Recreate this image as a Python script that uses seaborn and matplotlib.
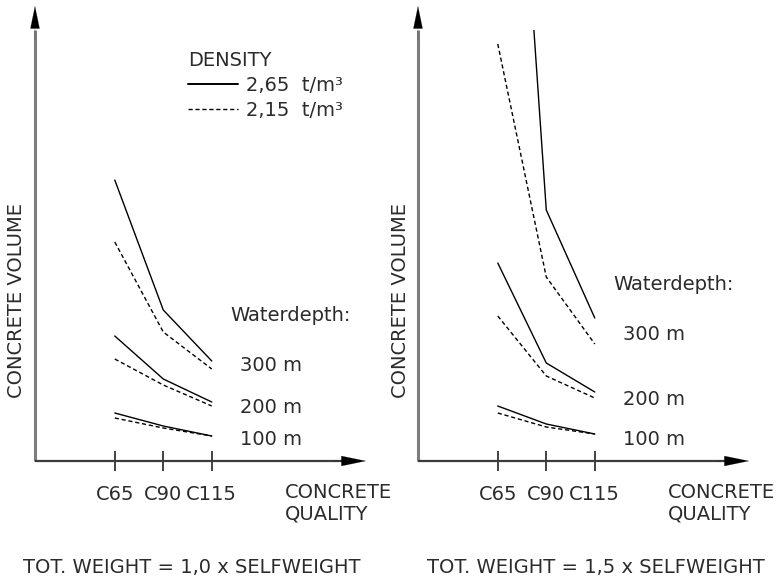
import numpy as np
import pandas as pd
import matplotlib
matplotlib.use("Agg")
import matplotlib.pyplot as plt
import seaborn as sns

# ---------------- data (concrete volume, arbitrary units) ----------------
qualities = ["C65", "C90", "C115"]
depths = ["100 m", "200 m", "300 m"]
densities = ["2,65  t/m³", "2,15  t/m³"]

# TOT. WEIGHT = 1,0 x SELFWEIGHT
w10_d265_100 = [48, 35, 25]
w10_d265_200 = [125, 82, 59]
w10_d265_300 = [281, 151, 100]
w10_d215_100 = [43, 33, 25]
w10_d215_200 = [102, 76, 55]
w10_d215_300 = [219, 129, 92]

# TOT. WEIGHT = 1,5 x SELFWEIGHT
w15_d265_100 = [55, 37, 27]
w15_d265_200 = [198, 98, 69]
w15_d265_300 = [956, 251, 143]
w15_d215_100 = [48, 34, 27]
w15_d215_200 = [145, 85, 63]
w15_d215_300 = [417, 184, 117]

panel_titles = ["TOT. WEIGHT = 1,0 x SELFWEIGHT", "TOT. WEIGHT = 1,5 x SELFWEIGHT"]


def build(series):
    rows = []
    for (dens, depth), vals in series.items():
        for q, v in zip(qualities, vals):
            rows.append({"quality": q, "volume": v, "density": dens, "depth": depth})
    return pd.DataFrame(rows)


df10 = build({
    (densities[0], depths[0]): w10_d265_100,
    (densities[0], depths[1]): w10_d265_200,
    (densities[0], depths[2]): w10_d265_300,
    (densities[1], depths[0]): w10_d215_100,
    (densities[1], depths[1]): w10_d215_200,
    (densities[1], depths[2]): w10_d215_300,
})
df15 = build({
    (densities[0], depths[0]): w15_d265_100,
    (densities[0], depths[1]): w15_d265_200,
    (densities[0], depths[2]): w15_d265_300,
    (densities[1], depths[0]): w15_d215_100,
    (densities[1], depths[1]): w15_d215_200,
    (densities[1], depths[2]): w15_d215_300,
})

# ---------------- style ----------------
sns.set_style("white")
plt.rcParams["font.family"] = ["DejaVu Sans"]
TXT = "#2b2b2b"
FS = 14

W, H = 779, 583
fig = plt.figure(figsize=(W / 100, H / 100), dpi=100)
fig.patch.set_facecolor("white")


def fx(x):
    return x / W


def fy(y):
    return 1 - y / H


AX_W, AX_H = 331, 431
X_AXIS_Y = 461
lefts = [35, 418]

axes = []
for i, (left, df) in enumerate(zip(lefts, [df10, df15])):
    ax = fig.add_axes([fx(left), fy(X_AXIS_Y), AX_W / W, AX_H / H])
    ax.set_facecolor("none")
    sns.lineplot(
        data=df, x="quality", y="volume", style="density", units="depth",
        estimator=None, sort=False, color="black", linewidth=1.0,
        style_order=densities,
        dashes={densities[0]: "", densities[1]: (3, 2)},
        legend=(i == 0), ax=ax,
    )
    ax.set_xlim(-1.645, 5.18)
    ax.set_ylim(0, AX_H)
    for s in ax.spines.values():
        s.set_visible(False)
    ax.set_yticks([])
    ax.set_xticks([0, 1, 2])
    ax.set_xticklabels(qualities, fontsize=FS, color=TXT)
    ax.tick_params(axis="x", bottom=True, direction="inout", length=15, width=1.3,
                   color="#333333", pad=10)
    ax.set_xlabel("")
    ax.set_ylabel("")

    # axis lines with arrow heads (technical-drawing style)
    ax.plot([0, 0], [0, 1.0], transform=ax.transAxes, color="#7d7d7d",
            lw=2.2, clip_on=False, solid_capstyle="butt")
    ax.annotate("", xy=(0, (X_AXIS_Y - 6) / AX_H), xytext=(0, (X_AXIS_Y - 40) / AX_H),
                xycoords="axes fraction", textcoords="axes fraction",
                arrowprops=dict(arrowstyle="-|>,head_length=1.6,head_width=0.33",
                                color="black", lw=0.1, shrinkA=0, shrinkB=0,
                                mutation_scale=10))
    ax.plot([0, 0.96], [0, 0], transform=ax.transAxes, color="#3c3c3c",
            lw=1.6, clip_on=False, solid_capstyle="butt")
    ax.annotate("", xy=(1.0, 0), xytext=(0.9, 0),
                xycoords="axes fraction", textcoords="axes fraction",
                arrowprops=dict(arrowstyle="-|>,head_length=1.75,head_width=0.36",
                                color="black", lw=0.1, shrinkA=0, shrinkB=0,
                                mutation_scale=10))
    axes.append(ax)

ax1, ax2 = axes

# legend
sns.move_legend(ax1, loc="upper left",
                bbox_to_anchor=((188 - 35) / AX_W, (X_AXIS_Y - 51) / AX_H),
                frameon=False, title="DENSITY", fontsize=FS, title_fontsize=FS,
                handlelength=2.55, handletextpad=0.45, labelspacing=0.3,
                borderpad=0, borderaxespad=0, alignment="left")
leg = ax1.get_legend()
for t in leg.get_texts():
    t.set_color(TXT)
leg.get_title().set_color(TXT)
for h in leg.get_lines():
    h.set_linewidth(1.4 if h.get_linestyle() == "-" else 1.0)

# texts
def ftext(x, y, s, **kw):
    fig.text(fx(x), fy(y), s, fontsize=FS, color=TXT, **kw)


for k, left in enumerate(lefts):
    off = left - lefts[0]
    ftext(17 + off, 300, "CONCRETE VOLUME", rotation=90, ha="center", va="center")
    ftext(285 + off if k == 0 else 668, 498, "CONCRETE", ha="left", va="baseline")
    ftext(285 + off if k == 0 else 668, 520, "QUALITY", ha="left", va="baseline")
    ftext(23 if k == 0 else 427, 573, panel_titles[k], ha="left", va="baseline")

# water depth labels
ftext(230, 321, "Waterdepth:", ha="left", va="baseline")
ftext(240, 371, depths[2], ha="left", va="baseline")
ftext(240, 413, depths[1], ha="left", va="baseline")
ftext(240, 445, depths[0], ha="left", va="baseline")

ftext(613, 290, "Waterdepth:", ha="left", va="baseline")
ftext(623, 340, depths[2], ha="left", va="baseline")
ftext(623, 405, depths[1], ha="left", va="baseline")
ftext(623, 445, depths[0], ha="left", va="baseline")

fig.savefig("out.png", dpi=100, facecolor="white")
